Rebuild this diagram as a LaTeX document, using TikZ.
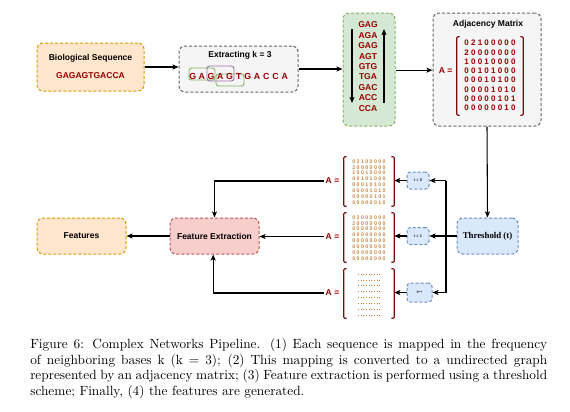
\documentclass[tikz,border=0pt]{standalone}
\usepackage{fontspec}
\newfontfamily\lsans{Liberation Sans}
\newfontfamily\lserif{Liberation Serif}
\usetikzlibrary{arrows.meta,calc}
\definecolor{ofill}{HTML}{FFE6CC}
\definecolor{odraw}{HTML}{D79B00}
\definecolor{gfill}{HTML}{F5F5F5}
\definecolor{gdraw}{HTML}{666666}
\definecolor{grfill}{HTML}{D5E8D4}
\definecolor{grdraw}{HTML}{82B366}
\definecolor{bfill}{HTML}{DAE8FC}
\definecolor{bdraw}{HTML}{6C8EBF}
\definecolor{rfill}{HTML}{F8CECC}
\definecolor{rdraw}{HTML}{B85450}
\definecolor{dred}{HTML}{990000}
\definecolor{brk}{HTML}{7A0A0A}
\definecolor{purp}{HTML}{9673A6}
\definecolor{tiny}{HTML}{C8843C}
\tikzset{
  box/.style={draw, line width=0.75pt, dash pattern=on 2.25pt off 1.5pt, rounded corners=4.5pt, inner sep=0pt},
  lbl/.style={font=\lsans\bfseries\fontsize{6.4}{7.7}\selectfont, inner sep=0pt, align=center},
  seqlbl/.style={font=\lsans\bfseries\fontsize{6.6}{7.7}\selectfont, text=dred, inner sep=0pt},
  tlbl/.style={font=\lsans\bfseries\fontsize{3}{3.6}\selectfont, text=black!80, inner sep=0pt},
  tinymat/.style={font=\lsans\bfseries\fontsize{3.9}{4.4}\selectfont, text=tiny, inner sep=0pt, align=center},
  arr/.style={draw, line width=0.8pt, -{Stealth[length=4.5pt,width=3.75pt,inset=1pt]}},
  conn/.style={draw, line width=0.8pt},
  bracket/.style={draw=brk, line width=0.8pt, rounded corners=0.8pt},
  win/.style={draw, line width=0.7pt, rounded corners=2pt},
  matbox/.style={inner sep=0pt, minimum width=37.5pt, minimum height=36.75pt},
}
\begin{document}
\begin{tikzpicture}[x=0.75pt,y=-0.75pt]
\useasboundingbox (0,0) rectangle (570,411);

% Biological sequence
\node[box, fill=ofill, draw=odraw, minimum width=80.25pt, minimum height=36pt] (bio) at (90.5,67) {};
\node[lbl] (biot) at (90.5,58) {Biological Sequence};
\node[lbl, text=dred] (bios) at (90.5,76) {GAGAGTGACCA};

% Extracting
\node[box, fill=gfill, draw=gdraw, minimum width=89.25pt, minimum height=34.5pt] (ext) at (238.5,69) {};
\node[lbl] (extt) at (240,55) {Extracting k = 3};
\draw[win, draw=grdraw] (189,68) rectangle (215,80);
\draw[win, draw=purp] (207,66) rectangle (234,81);
\draw[win, draw=grdraw] (216,74) rectangle (244,86);
\foreach \l [count=\i] in {G,A,G,A,G,T,G,A,C,C,A}
  \node[seqlbl] (s\i) at ({192.7+9.2*(\i-1)},76.5) {\l};

% k-mers
\node[box, fill=grfill, draw=grdraw, minimum width=39pt, minimum height=84.75pt] (kmer) at (369,69.5) {};
\node[lbl, text=dred, font=\lsans\bfseries\fontsize{6.4}{7.8}\selectfont] (kmert) at (368,66.5)
  {GAG\\AGA\\GAG\\AGT\\GTG\\TGA\\GAC\\ACC\\CCA};
\coordinate (kd1) at (352,29);
\coordinate (kd2) at (352,103);
\coordinate (ku1) at (384,103);
\coordinate (ku2) at (384,29);
\draw[arr] (kd1) -- (kd2);
\draw[arr] (ku1) -- (ku2);

% Adjacency
\node[box, fill=gfill, draw=gdraw, minimum width=81pt, minimum height=84.75pt] (adj) at (487,69.5) {};
\node[lbl] (adjt) at (488,24.5) {Adjacency Matrix};
\node[lbl, text=dred] (adjA) at (445.5,70.5) {A =};
\node[matbox, minimum width=49.5pt, minimum height=58.5pt] (am) at (490,76) {};
\draw[bracket] ([xshift=2.25pt]am.north west) -- (am.north west) -- (am.south west) -- ([xshift=2.25pt]am.south west);
\draw[bracket] ([xshift=-2.25pt]am.north east) -- (am.north east) -- (am.south east) -- ([xshift=-2.25pt]am.south east);
\node[lbl, text=dred, font=\lsans\bfseries\fontsize{6}{6.95}\selectfont] (amt) at (490,75.5)
  {0 2 1 0 0 0 0 0\\2 0 0 0 0 0 0 0\\1 0 0 1 0 0 0 0\\0 0 1 0 1 0 0 0\\0 0 0 1 0 1 0 0\\0 0 0 0 1 0 1 0\\0 0 0 0 0 1 0 1\\0 0 0 0 0 0 1 0};

% Threshold
\node[box, fill=bfill, draw=bdraw, minimum width=45.75pt, minimum height=27pt,
      font=\lserif\bfseries\fontsize{6.6}{8}\selectfont] (thr) at (487.5,236) {Threshold (t)};

% t boxes
\node[box, fill=bfill, draw=bdraw, rounded corners=2.5pt, minimum width=16.5pt, minimum height=12.75pt, tlbl] (t0) at (418,180.5) {t = 0};
\node[box, fill=bfill, draw=bdraw, rounded corners=2.5pt, minimum width=16.5pt, minimum height=12.75pt, tlbl] (t1) at (418,236) {t = 1};
\node[box, fill=bfill, draw=bdraw, rounded corners=2.5pt, minimum width=18.75pt, minimum height=14.25pt, tlbl] (tp) at (419.5,292.5) {t++};

% small matrices
\node[matbox] (M1) at (369,181.5) {};
\node[matbox] (M2) at (369,237.5) {};
\node[matbox] (M3) at (369,293.5) {};
\foreach \m in {M1,M2,M3}{
  \draw[bracket] ([xshift=2.25pt]\m.north west) -- (\m.north west) -- (\m.south west) -- ([xshift=2.25pt]\m.south west);
  \draw[bracket] ([xshift=-2.25pt]\m.north east) -- (\m.north east) -- (\m.south east) -- ([xshift=-2.25pt]\m.south east);
}
\node[tinymat] (m1t) at (369,182)
  {0 2 1 0 0 0 0 0\\2 0 0 0 0 0 0 0\\1 0 0 1 0 0 0 0\\0 0 1 0 1 0 0 0\\0 0 0 1 0 1 0 0\\0 0 0 0 1 0 1 0\\0 0 0 0 0 1 0 1\\0 0 0 0 0 0 1 0};
\node[tinymat] (m2t) at (369,238)
  {0 2 0 0 0 0 0 0\\2 0 0 0 0 0 0 0\\0 0 0 0 0 0 0 0\\0 0 0 0 0 0 0 0\\0 0 0 0 0 0 0 0\\0 0 0 0 0 0 0 0\\0 0 0 0 0 0 0 0\\0 0 0 0 0 0 0 0};
\foreach \r in {0,...,7}
  \draw[draw=tiny, line width=0.5pt, dash pattern=on 0.6pt off 1.4pt] (358,{274+5.86*\r}) -- (381,{274+5.86*\r});

\node[lbl, text=dred] (A1) at (332.5,181) {A =};
\node[lbl, text=dred] (A2) at (332.5,236.5) {A =};
\node[lbl, text=dred] (A3) at (332.5,293) {A =};

% Feature extraction and features
\node[box, fill=rfill, draw=rdraw, minimum width=66.75pt, minimum height=27pt, lbl] (fe) at (214.5,236) {Feature Extraction};
\node[box, fill=ofill, draw=odraw, minimum width=66.75pt, minimum height=27pt, lbl] (feat) at (81.5,236) {Features};

% connectors
\draw[arr] (bio.east) -- (bio.east -| ext.west);
\draw[arr] (ext.east) -- (ext.east -| kmer.west);
\draw[arr] ([yshift=-0.5pt]kmer.east) -- ([yshift=-0.5pt]kmer.east -| adj.west);
\draw[arr] (adj.south) -- (thr.north);
\coordinate (bus) at (446,236);
\draw[conn] (thr.west) -- (bus);
\draw[conn] (t0.east -| bus) -- (tp.east -| bus);
\draw[arr] (t0.east -| bus) -- (t0.east);
\draw[arr] (bus) -- (t1.east);
\draw[arr] (tp.east -| bus) -- (tp.east);
\draw[arr] (t0.west) -- (t0.west -| M1.east);
\draw[arr] (t1.west) -- (t1.west -| M2.east);
\draw[arr] (tp.west) -- (tp.west -| M3.east);
\draw[arr] ([xshift=-1pt]A1.west) -| (fe.north);
\draw[arr] ([xshift=-1pt]A2.west) -- (A2.west -| fe.east);
\draw[arr] ([xshift=-1pt]A3.west) -| ([xshift=-1pt]fe.south);
\draw[arr] (fe.west) -- (feat.east);

% caption
\node[anchor=north west, inner sep=0pt, text width=387.75pt, align=justify,
      font=\fontsize{10}{11.6}\selectfont] (cap) at (30,338.5)
  {Figure 6: Complex Networks Pipeline. (1) Each sequence is mapped in the frequency\linebreak
   of neighboring bases k (k $=$ 3); (2) This mapping is converted to a undirected graph\linebreak
   represented by an adjacency matrix; (3) Feature extraction is performed using a threshold\linebreak
   scheme; Finally, (4) the features are generated.};
\end{tikzpicture}
\end{document}
